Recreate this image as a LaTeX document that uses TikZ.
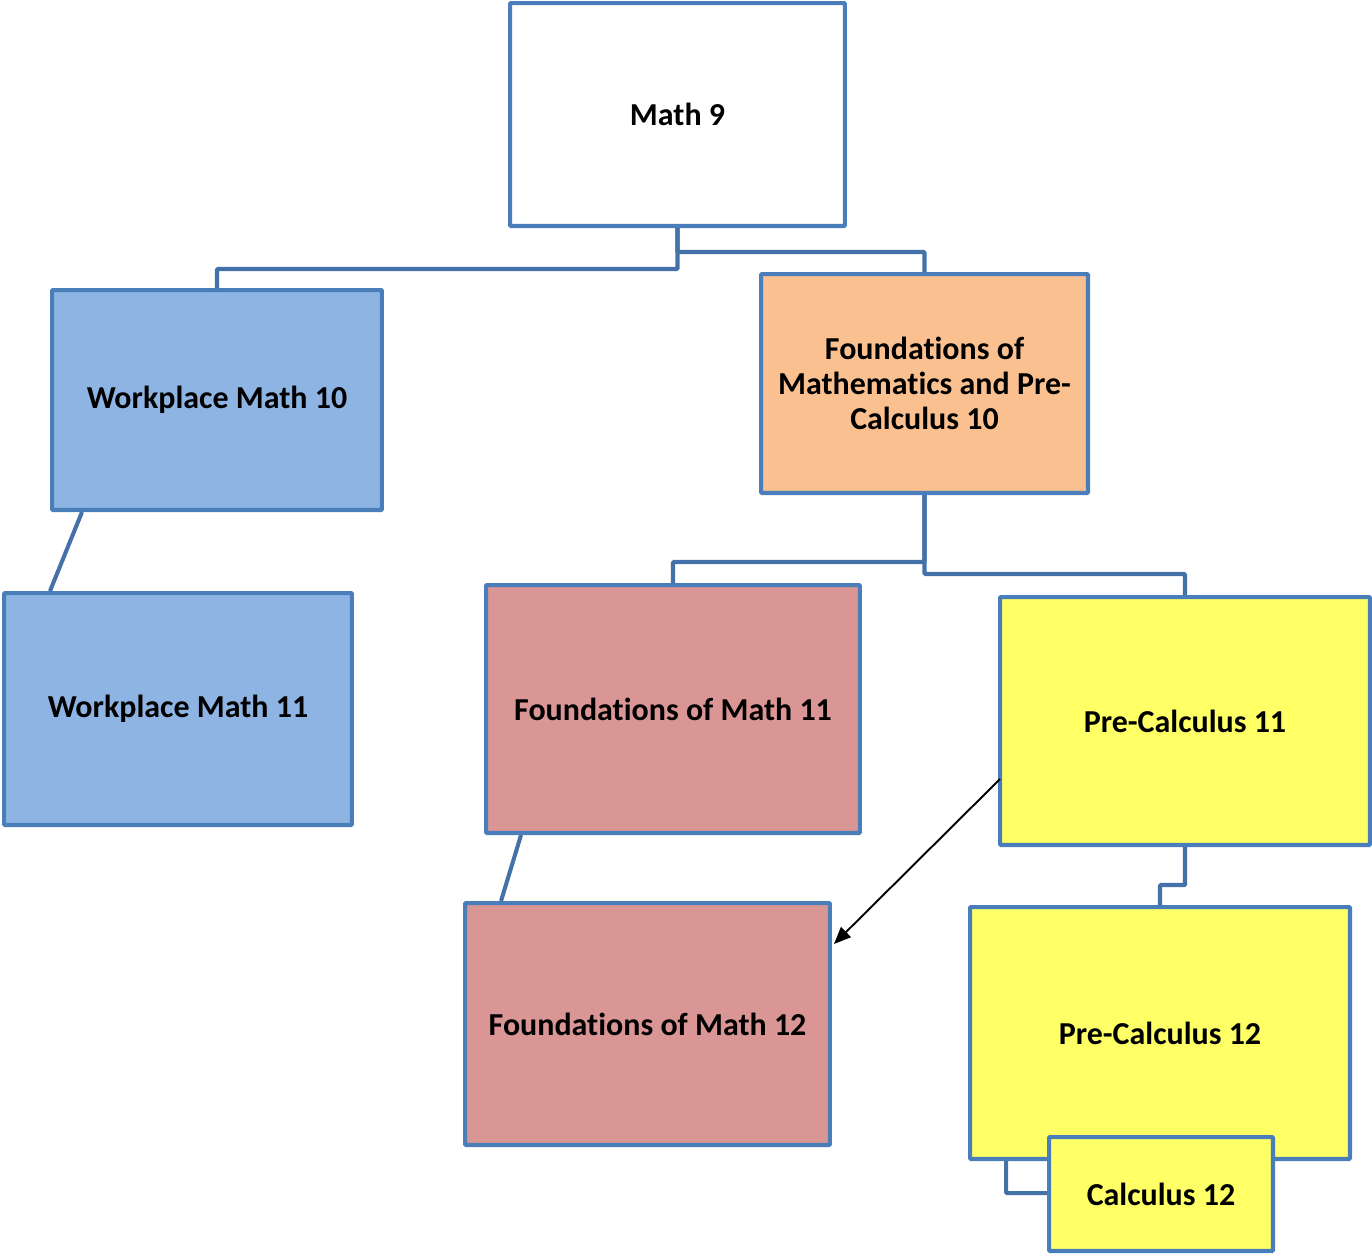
\documentclass[tikz,border=0pt]{standalone}
\usepackage{fontspec}
\setmainfont[Ligatures=CommonOff]{Carlito}
\usepackage{tikz}
\usetikzlibrary{calc,arrows.meta,positioning}
\definecolor{edgeblue}{HTML}{4A7EBB}
\definecolor{workblue}{HTML}{8EB4E3}
\definecolor{foundorange}{HTML}{FAC090}
\definecolor{foundpink}{HTML}{D99694}
\definecolor{precalcyellow}{HTML}{FFFF66}

\begin{document}
\begin{tikzpicture}[x=0.02cm, y=-0.02cm,
    course/.style={draw=edgeblue, line width=2.3pt, rounded corners=0.5pt,
      align=center, inner sep=4pt,
      font=\bfseries\fontsize{18.2}{19.8}\selectfont},
    link/.style={draw=edgeblue!90!black, line width=2.3pt, rounded corners=0.5pt}]
  \useasboundingbox (0,0) rectangle (1372,1255);

  % ── Grade 9 ──
  \node[course, fill=white, minimum width=6.7cm, minimum height=4.46cm]
    (math9) at (677.5,114.5) {Math 9};

  % ── Grade 10 ──
  \node[course, fill=workblue, minimum width=6.6cm, minimum height=4.4cm]
    (wm10) at (217,400) {Workplace Math 10};
  \node[course, fill=foundorange, minimum width=6.54cm, minimum height=4.38cm]
    (fd10) at (924.5,383.5) {Foundations of\\Mathematics and Pre-\\Calculus 10};

  % ── Grade 11 ──
  \node[course, fill=workblue, minimum width=6.96cm, minimum height=4.64cm]
    (wm11) at (178,709) {Workplace Math 11};
  \node[course, fill=foundpink, minimum width=7.48cm, minimum height=4.96cm]
    (fm11) at (673,709) {Foundations of Math 11};
  \node[course, fill=precalcyellow, minimum width=7.4cm, minimum height=4.96cm]
    (pc11) at (1185,721) {Pre-Calculus 11};

  % ── Grade 12 ──
  \node[course, fill=foundpink, minimum width=7.3cm, minimum height=4.84cm]
    (fm12) at (647.5,1024) {Foundations of Math 12};
  \node[course, fill=precalcyellow, minimum width=7.6cm, minimum height=5.04cm]
    (pc12) at (1160,1033) {Pre-Calculus 12};

  % Calculus sits over the corner of Pre-Calculus 12
  \draw[link] ($(pc12.south west)+(38,0)$) |- (1049,1193);
  \node[course, fill=precalcyellow, minimum width=4.48cm, minimum height=2.28cm]
    (calc12) at (1161,1194) {Calculus 12};

  % ── Connectors ──
  \draw[link] (math9.south) -- ++(0,41) -| (wm10.north);
  \draw[link] (math9.south) -- ++(0,24) -| (fd10.north);
  \draw[link] ($(wm10.south west)+(32,0)$) -- ($(wm11.north west)+(48,0)$);
  \draw[link] (fd10.south) -- ++(0,67) -| (fm11.north);
  \draw[link] (fd10.south) -- ++(0,79) -| (pc11.north);
  \draw[link] ($(fm11.south west)+(37,0)$) -- ($(fm12.north west)+(38,0)$);
  \draw[link] (pc11.south) -- ++(0,38) -| (pc12.north);

  % Pre-Calculus 11 also leads to Foundations 12
  \draw[line width=1.1pt, -{Triangle[length=0.34cm, width=0.28cm]}]
    ($(pc11.west)+(2,58)$) -- ($(fm12.east)+(2,-80)$);
\end{tikzpicture}
\end{document}
